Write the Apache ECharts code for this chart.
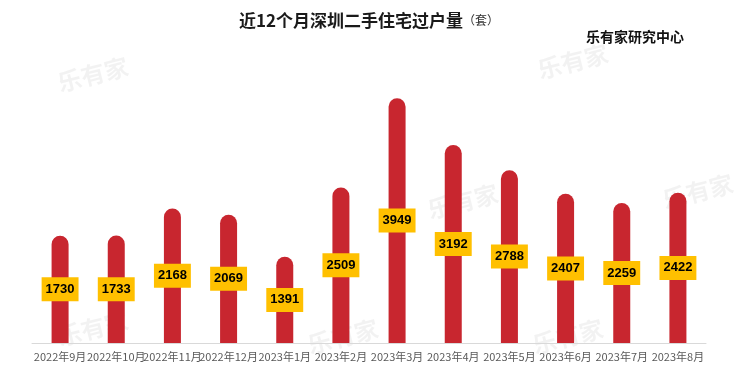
<!DOCTYPE html>
<html><head><meta charset="utf-8">
<script src="https://cdn.jsdelivr.net/npm/echarts@6/dist/echarts.min.js"></script>
<style>html,body{margin:0;padding:0;background:#fff}#c{width:740px;height:387px}</style>
</head><body><div id="c"></div>
<script>
const categories = ['2022年9月','2022年10月','2022年11月','2022年12月','2023年1月','2023年2月','2023年3月','2023年4月','2023年5月','2023年6月','2023年7月','2023年8月'];
const values = [1730,1733,2168,2069,1391,2509,3949,3192,2788,2407,2259,2422];
const titleText = '近12个月深圳二手住宅过户量';
const titleUnit = '（套）';
const sourceText = '乐有家研究中心';
const watermark = '乐有家';

const chart = echarts.init(document.getElementById('c'));
const wmPos = [[85,68],[565,55],[455,195],[690,185],[85,322],[335,330],[560,330]];
const graphics = wmPos.map(p => ({
  type:'text', left:p[0]-30, top:p[1]-14, rotation:0.25, z:0,
  style:{text:watermark, fill:'rgba(0,0,0,0.05)', font:'bold 24px "Noto Sans CJK SC"'}
}));
chart.setOption({
  backgroundColor:'#fff',
  animation:false,
  title:[{
    text: titleText + '{s|' + titleUnit + '}',
    left: 234, top: 7,
    textStyle:{fontFamily:'Noto Sans CJK SC', fontWeight:'bold', fontSize:17, color:'#1a1a1a',
      rich:{s:{fontFamily:'Noto Sans CJK SC', fontSize:12, fontWeight:'normal', color:'#333'}}}
  },{
    text: sourceText, left: 581, top: 25,
    textStyle:{fontFamily:'Noto Sans CJK SC', fontWeight:'bold', fontSize:14, color:'#111'}
  }],
  graphic: graphics,
  grid:{left:32, right:34, top:64, bottom:44},
  xAxis:{type:'category', data:categories,
    axisLine:{lineStyle:{color:'#d9d9d9', width:1}},
    axisTick:{show:false},
    axisLabel:{color:'#595959', fontSize:11, fontFamily:'Noto Sans CJK SC', margin:8, interval:0}},
  yAxis:{type:'value', min:0, max:4500, show:false, splitLine:{show:false}},
  series:[{
    type:'bar', data:values, barWidth:17, z:2,
    itemStyle:{color:'#C8262F', borderRadius:[8.5,8.5,0,0]},
    label:{show:true, position:'inside', backgroundColor:'#FFC000', color:'#000',
      fontWeight:'bold', fontSize:13, fontFamily:'Liberation Sans', padding:[6,4,5,4]}
  }]
});
</script></body></html>
